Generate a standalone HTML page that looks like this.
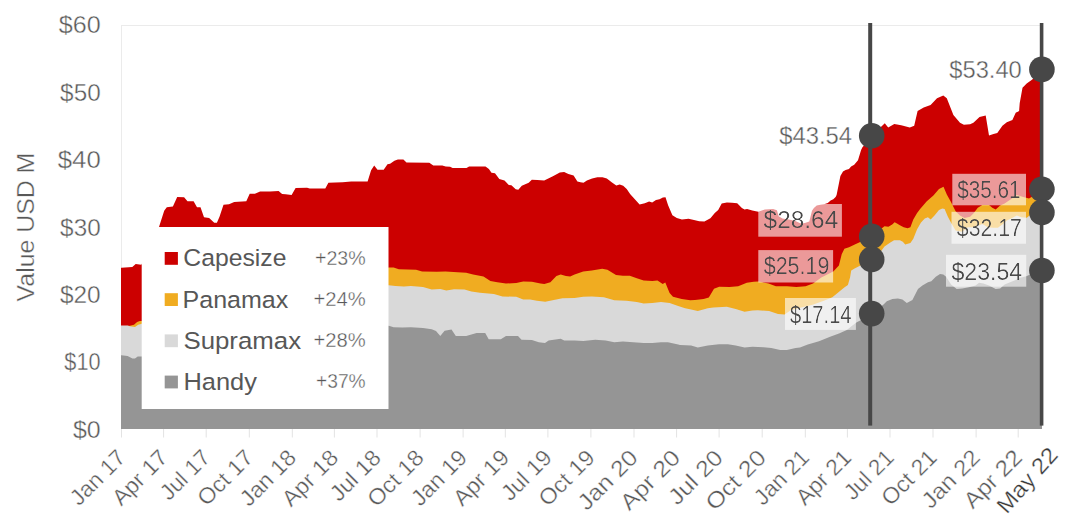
<!DOCTYPE html><html><head><meta charset="utf-8"><style>html,body{margin:0;padding:0;background:#fff;width:1080px;height:521px;overflow:hidden}svg{display:block;font-family:"Liberation Sans",sans-serif}</style></head><body>
<svg width="1080" height="521" viewBox="0 0 1080 521">
<defs><filter id="thin" x="-10%" y="-20%" width="120%" height="140%"><feComponentTransfer><feFuncA type="gamma" amplitude="1" exponent="2" offset="0"/></feComponentTransfer></filter></defs>
<line x1="121.5" y1="25.5" x2="1040" y2="25.5" stroke="#ebebeb" stroke-width="1"/>
<line x1="121.5" y1="25" x2="121.5" y2="429" stroke="#ebebeb" stroke-width="1"/>
<polygon points="121,429.0 121,267.7 121.5,267.7 132.3,266.9 135.7,263.9 141.3,264.8 150.0,250.0 159.0,227.1 164.2,210.7 166.8,207.3 172.9,206.4 177.2,196.9 184.1,197.3 187.5,201.2 193.6,201.2 197.0,207.3 200.5,207.3 204.0,217.3 209.1,218.0 214.3,222.8 216.9,222.8 219.5,216.8 223.5,204.7 229.0,204.2 234.2,202.1 246.3,201.2 249.7,193.8 254.9,193.8 260.1,191.4 270.0,191.5 278.6,191.0 282.1,193.9 285.6,194.3 291.6,195.0 295.6,188.0 307.1,187.7 309.7,188.4 325.3,188.4 328.4,182.8 342.6,182.3 351.2,181.5 367.6,181.5 371.1,170.2 374.2,165.6 377.5,169.7 383.7,169.7 387.5,164.2 390.1,163.8 394.4,160.7 397.9,159.4 403.4,159.4 406.5,162.5 429.3,162.8 433.3,165.6 442.3,165.6 445.7,166.4 450.1,166.8 452.6,168.0 466.5,168.0 469.1,166.4 485.5,166.4 488.9,169.0 491.5,172.8 495.0,173.2 499.3,178.9 504.5,180.6 508.8,184.9 511.4,185.3 515.7,189.2 518.3,189.8 521.8,185.8 528.7,182.8 531.8,179.7 537.3,180.1 544.2,180.4 552.9,176.3 559.8,172.5 564.1,172.0 568.4,174.0 573.6,175.4 577.4,181.5 580.5,182.3 583.5,182.8 586.9,180.6 592.1,178.5 597.3,177.3 602.5,177.3 606.8,178.5 612.0,182.5 616.3,185.4 619.7,184.6 623.2,185.8 626.7,188.9 630.1,194.1 635.3,199.8 639.6,204.4 644.8,203.2 649.1,201.5 652.2,202.4 656.0,200.1 659.5,199.2 662.9,197.5 665.5,197.2 668.1,205.3 672.4,215.3 676.8,217.9 681.9,219.5 688.5,218.8 694.0,220.0 699.2,221.2 704.4,221.4 710.4,218.3 714.8,213.1 718.2,210.1 721.7,203.6 726.9,202.4 732.0,202.7 737.2,203.2 741.9,207.9 744.5,209.6 747.1,209.1 752.3,210.5 758.3,211.7 764.8,209.4 773.1,209.1 776.9,210.3 778.7,216.3 782.4,218.6 788.9,219.5 795.4,220.9 799.1,222.8 801.9,223.7 805.6,222.8 809.3,221.4 812.0,210.7 813.9,208.0 816.7,205.6 820.4,204.7 824.1,204.3 827.8,202.9 830.6,200.6 833.3,199.2 835.6,196.9 836.6,195.0 838.7,184.6 840.4,175.9 843.0,171.6 845.6,169.9 849.0,169.0 851.1,166.4 854.2,164.7 858.0,160.3 861.1,150.0 862.3,147.4 871.5,136.0 884.8,123.2 888.2,127.5 894.3,124.1 901.2,125.3 909.8,127.5 914.2,125.8 917.6,111.1 923.7,107.6 930.6,105.0 937.0,98.3 943.3,95.5 946.8,98.3 953.4,115.0 960.0,122.8 963.9,124.7 970.1,124.3 973.4,122.8 979.5,116.9 985.7,115.6 989.0,135.4 993.5,134.0 997.3,132.9 1002.4,125.8 1006.8,122.3 1012.4,120.0 1015.7,112.8 1019.1,110.9 1019.7,103.2 1022.5,87.8 1026.7,83.6 1032.3,79.4 1042.0,69.4 1042.0,429.0" fill="#cc0000"/>
<polygon points="121,429.0 121,326.2 121.5,326.2 129.8,325.8 134.0,324.8 137.1,322.1 139.8,321.1 141.9,321.1 388.8,267.4 393.6,267.4 398.8,269.2 416.1,269.7 422.1,271.4 436.8,271.8 445.5,271.4 457.6,272.3 466.2,272.8 473.1,274.4 483.5,276.6 490.4,280.9 497.3,282.3 506.0,283.5 516.3,283.0 523.2,281.4 531.9,281.8 540.5,283.5 544.3,284.0 550.4,282.3 556.4,276.1 560.7,274.4 565.9,276.1 570.2,276.6 574.6,274.4 583.2,271.4 591.8,270.6 602.2,268.8 607.4,269.7 616.0,274.9 622.9,275.7 629.8,275.7 636.8,278.3 643.7,280.6 652.3,280.9 657.5,280.6 662.7,284.0 665.3,282.6 669.6,293.0 673.0,296.8 681.7,299.1 690.3,300.3 695.0,300.0 703.6,299.1 708.8,297.4 714.0,288.7 719.2,286.7 729.6,287.0 738.2,286.2 746.8,282.7 753.7,281.8 758.3,281.6 768.5,283.4 775.9,286.2 787.0,286.2 796.3,287.1 805.6,286.2 813.0,283.4 821.3,277.4 828.7,273.7 833.3,271.4 838.9,265.4 841.7,254.3 844.4,248.7 849.0,247.2 854.8,244.5 859.1,242.6 871.5,236.2 884.5,226.3 888.4,226.8 892.2,224.4 894.6,222.3 897.0,223.4 899.9,225.3 903.7,227.3 907.6,228.2 910.4,227.3 913.3,219.6 917.1,212.9 920.1,209.0 926.8,201.2 933.4,195.6 939.0,188.9 943.5,186.7 946.8,194.5 951.1,202.3 955.6,211.2 960.0,215.6 964.5,217.9 970.1,216.8 973.4,213.4 977.8,207.8 982.3,205.1 989.0,205.1 992.3,207.8 995.7,209.5 1000.1,205.6 1004.6,203.4 1011.2,198.9 1016.8,195.0 1022.4,196.7 1029.0,198.4 1035.0,195.0 1042.0,189.2 1042.0,429.0" fill="#f0ac21"/>
<polygon points="121,429.0 121,325.4 121.5,325.4 127.6,325.5 129.8,326.3 135.0,326.9 138.2,324.8 141.9,323.7 388.8,285.2 395.4,286.1 404.0,286.6 410.9,286.1 423.0,287.0 431.7,289.6 440.3,288.9 446.3,290.4 454.1,289.2 464.5,289.6 471.4,291.6 480.0,292.7 493.9,293.9 502.5,296.5 516.3,296.8 523.2,299.6 530.1,299.6 537.0,300.8 545.2,301.7 553.8,299.9 562.5,298.2 574.6,297.9 583.2,296.8 591.8,296.5 603.9,297.3 614.3,300.3 626.4,300.8 636.8,302.0 643.7,303.4 652.3,303.0 661.0,302.0 669.6,303.0 678.2,306.0 685.1,308.2 691.1,309.5 697.8,311.1 707.8,308.3 713.4,307.6 726.8,306.7 735.7,308.9 744.6,311.7 752.4,310.6 757.9,310.2 769.1,311.1 778.0,313.9 784.6,314.5 791.1,310.0 802.3,307.3 813.4,304.5 824.5,300.6 832.3,297.2 837.9,292.8 841.2,290.0 844.6,287.3 847.9,285.1 850.1,277.3 851.2,270.6 854.6,268.4 859.0,266.2 871.5,259.4 881.7,250.3 884.5,246.5 890.3,242.6 894.1,240.2 899.9,240.2 902.8,241.7 905.2,244.5 910.4,243.1 913.3,238.8 917.1,229.2 921.0,222.5 924.8,218.6 927.9,217.3 930.7,219.5 934.5,215.6 939.0,210.1 942.3,208.4 944.6,209.0 947.9,216.8 951.1,222.8 955.6,230.6 962.3,231.7 967.8,227.3 972.3,227.3 976.7,226.2 982.3,223.9 987.9,227.3 993.4,227.8 997.9,227.8 1002.3,224.5 1006.8,220.6 1011.2,218.4 1016.8,215.6 1021.3,217.2 1026.8,217.8 1030.2,215.0 1042.0,212.4 1042.0,429.0" fill="#d9d9d9"/>
<polygon points="121,429.0 121,355.3 121.3,355.3 127.6,355.9 132.4,358.5 135.0,358.5 137.7,356.4 141.9,356.4 388.8,325.8 393.6,327.2 402.3,327.6 410.9,327.2 423.0,327.9 431.7,329.3 436.0,331.0 440.3,335.9 444.6,330.7 451.5,329.6 455.8,335.9 466.2,335.9 471.4,334.5 476.6,333.1 485.2,333.1 488.7,339.3 500.8,339.3 506.0,335.9 518.0,335.9 521.5,339.7 531.9,340.0 538.8,342.3 545.0,343.0 548.6,340.5 560.7,338.8 564.2,340.5 574.6,340.5 583.2,341.0 595.3,339.7 605.7,340.5 614.3,342.3 622.9,341.4 633.3,342.3 643.7,343.1 652.3,343.1 661.0,342.3 667.9,342.3 678.2,344.5 680.0,345.1 691.1,345.6 697.8,347.6 707.8,345.6 719.0,344.3 727.9,344.3 735.7,345.6 744.6,347.6 752.4,346.8 763.5,347.3 771.3,347.9 780.2,349.9 786.9,349.9 791.3,349.0 795.6,348.0 800.0,347.6 807.8,344.5 819.0,341.2 830.1,336.8 839.0,333.4 846.8,330.1 852.4,325.6 856.8,322.3 860.2,320.6 871.5,313.6 883.5,304.5 886.8,301.2 892.4,299.0 897.9,298.4 902.4,299.5 906.8,302.9 912.4,300.1 915.7,293.4 918.0,288.9 922.4,285.6 928.0,282.3 931.3,281.2 935.8,276.7 940.0,273.9 943.3,274.5 946.1,276.7 951.1,284.5 956.7,289.0 962.3,288.4 968.9,287.3 975.6,285.6 979.0,282.8 983.4,283.4 989.0,285.6 995.7,289.0 1000.1,288.4 1004.6,284.5 1010.1,282.3 1015.7,280.1 1020.2,277.8 1026.3,276.2 1029.1,275.0 1042.0,270.5 1042.0,429.0" fill="#959595"/>
<line x1="121.5" y1="429" x2="121.5" y2="437.5" stroke="#e3e3e3" stroke-width="1"/>
<line x1="163.6" y1="429" x2="163.6" y2="437.5" stroke="#e3e3e3" stroke-width="1"/>
<line x1="206.2" y1="429" x2="206.2" y2="437.5" stroke="#e3e3e3" stroke-width="1"/>
<line x1="249.3" y1="429" x2="249.3" y2="437.5" stroke="#e3e3e3" stroke-width="1"/>
<line x1="292.3" y1="429" x2="292.3" y2="437.5" stroke="#e3e3e3" stroke-width="1"/>
<line x1="334.4" y1="429" x2="334.4" y2="437.5" stroke="#e3e3e3" stroke-width="1"/>
<line x1="377.0" y1="429" x2="377.0" y2="437.5" stroke="#e3e3e3" stroke-width="1"/>
<line x1="420.1" y1="429" x2="420.1" y2="437.5" stroke="#e3e3e3" stroke-width="1"/>
<line x1="463.1" y1="429" x2="463.1" y2="437.5" stroke="#e3e3e3" stroke-width="1"/>
<line x1="505.3" y1="429" x2="505.3" y2="437.5" stroke="#e3e3e3" stroke-width="1"/>
<line x1="547.9" y1="429" x2="547.9" y2="437.5" stroke="#e3e3e3" stroke-width="1"/>
<line x1="590.9" y1="429" x2="590.9" y2="437.5" stroke="#e3e3e3" stroke-width="1"/>
<line x1="634.0" y1="429" x2="634.0" y2="437.5" stroke="#e3e3e3" stroke-width="1"/>
<line x1="676.6" y1="429" x2="676.6" y2="437.5" stroke="#e3e3e3" stroke-width="1"/>
<line x1="719.1" y1="429" x2="719.1" y2="437.5" stroke="#e3e3e3" stroke-width="1"/>
<line x1="762.2" y1="429" x2="762.2" y2="437.5" stroke="#e3e3e3" stroke-width="1"/>
<line x1="805.3" y1="429" x2="805.3" y2="437.5" stroke="#e3e3e3" stroke-width="1"/>
<line x1="847.4" y1="429" x2="847.4" y2="437.5" stroke="#e3e3e3" stroke-width="1"/>
<line x1="890.0" y1="429" x2="890.0" y2="437.5" stroke="#e3e3e3" stroke-width="1"/>
<line x1="933.0" y1="429" x2="933.0" y2="437.5" stroke="#e3e3e3" stroke-width="1"/>
<line x1="976.1" y1="429" x2="976.1" y2="437.5" stroke="#e3e3e3" stroke-width="1"/>
<line x1="1018.2" y1="429" x2="1018.2" y2="437.5" stroke="#e3e3e3" stroke-width="1"/>
<text transform="translate(126 459.8) rotate(-45)" x="-66.3" y="0" font-size="22.5" fill="#585858" textLength="67.43" lengthAdjust="spacingAndGlyphs" stroke="#fff" stroke-width="0.35">Jan 17</text>
<text transform="translate(168.12 459.8) rotate(-45)" x="-66.46" y="0" font-size="22.5" fill="#585858" textLength="67.62" lengthAdjust="spacingAndGlyphs" stroke="#fff" stroke-width="0.35">Apr 17</text>
<text transform="translate(210.71 459.8) rotate(-45)" x="-59.05" y="0" font-size="22.5" fill="#585858" textLength="60.19" lengthAdjust="spacingAndGlyphs" stroke="#fff" stroke-width="0.35">Jul 17</text>
<text transform="translate(253.77 459.8) rotate(-45)" x="-66.82" y="0" font-size="22.5" fill="#585858" textLength="67.98" lengthAdjust="spacingAndGlyphs" stroke="#fff" stroke-width="0.35">Oct 17</text>
<text transform="translate(296.82 459.8) rotate(-45)" x="-67.54" y="0" font-size="22.5" fill="#585858" textLength="68.53" lengthAdjust="spacingAndGlyphs" stroke="#fff" stroke-width="0.35">Jan 18</text>
<text transform="translate(338.94 459.8) rotate(-45)" x="-67.7" y="0" font-size="22.5" fill="#585858" textLength="68.72" lengthAdjust="spacingAndGlyphs" stroke="#fff" stroke-width="0.35">Apr 18</text>
<text transform="translate(381.53 459.8) rotate(-45)" x="-60.3" y="0" font-size="22.5" fill="#585858" textLength="61.3" lengthAdjust="spacingAndGlyphs" stroke="#fff" stroke-width="0.35">Jul 18</text>
<text transform="translate(424.59 459.8) rotate(-45)" x="-68.07" y="0" font-size="22.5" fill="#585858" textLength="69.09" lengthAdjust="spacingAndGlyphs" stroke="#fff" stroke-width="0.35">Oct 18</text>
<text transform="translate(467.65 459.8) rotate(-45)" x="-66.98" y="0" font-size="22.5" fill="#585858" textLength="68.05" lengthAdjust="spacingAndGlyphs" stroke="#fff" stroke-width="0.35">Jan 19</text>
<text transform="translate(509.77 459.8) rotate(-45)" x="-67.14" y="0" font-size="22.5" fill="#585858" textLength="68.24" lengthAdjust="spacingAndGlyphs" stroke="#fff" stroke-width="0.35">Apr 19</text>
<text transform="translate(552.36 459.8) rotate(-45)" x="-59.73" y="0" font-size="22.5" fill="#585858" textLength="60.81" lengthAdjust="spacingAndGlyphs" stroke="#fff" stroke-width="0.35">Jul 19</text>
<text transform="translate(595.41 459.8) rotate(-45)" x="-67.5" y="0" font-size="22.5" fill="#585858" textLength="68.6" lengthAdjust="spacingAndGlyphs" stroke="#fff" stroke-width="0.35">Oct 19</text>
<text transform="translate(638.47 459.8) rotate(-45)" x="-73.01" y="0" font-size="22.5" fill="#585858" textLength="73.98" lengthAdjust="spacingAndGlyphs" stroke="#fff" stroke-width="0.35">Jan 20</text>
<text transform="translate(681.06 459.8) rotate(-45)" x="-73.15" y="0" font-size="22.5" fill="#585858" textLength="74.13" lengthAdjust="spacingAndGlyphs" stroke="#fff" stroke-width="0.35">Apr 20</text>
<text transform="translate(723.65 459.8) rotate(-45)" x="-65.78" y="0" font-size="22.5" fill="#585858" textLength="66.75" lengthAdjust="spacingAndGlyphs" stroke="#fff" stroke-width="0.35">Jul 20</text>
<text transform="translate(766.71 459.8) rotate(-45)" x="-73.6" y="0" font-size="22.5" fill="#585858" textLength="74.59" lengthAdjust="spacingAndGlyphs" stroke="#fff" stroke-width="0.35">Oct 20</text>
<text transform="translate(809.76 459.8) rotate(-45)" x="-66" y="0" font-size="22.5" fill="#585858" textLength="67.1" lengthAdjust="spacingAndGlyphs" stroke="#fff" stroke-width="0.35">Jan 21</text>
<text transform="translate(851.88 459.8) rotate(-45)" x="-66.17" y="0" font-size="22.5" fill="#585858" textLength="67.29" lengthAdjust="spacingAndGlyphs" stroke="#fff" stroke-width="0.35">Apr 21</text>
<text transform="translate(894.47 459.8) rotate(-45)" x="-58.76" y="0" font-size="22.5" fill="#585858" textLength="59.86" lengthAdjust="spacingAndGlyphs" stroke="#fff" stroke-width="0.35">Jul 21</text>
<text transform="translate(937.53 459.8) rotate(-45)" x="-66.52" y="0" font-size="22.5" fill="#585858" textLength="67.64" lengthAdjust="spacingAndGlyphs" stroke="#fff" stroke-width="0.35">Oct 21</text>
<text transform="translate(980.59 459.8) rotate(-45)" x="-70.57" y="0" font-size="22.5" fill="#585858" textLength="71.78" lengthAdjust="spacingAndGlyphs" stroke="#fff" stroke-width="0.35">Jan 22</text>
<text transform="translate(1022.71 459.8) rotate(-45)" x="-70.72" y="0" font-size="22.5" fill="#585858" textLength="71.95" lengthAdjust="spacingAndGlyphs" stroke="#fff" stroke-width="0.35">Apr 22</text>
<text transform="translate(1058.3 456.6) rotate(-48.5)" x="-77.78" y="0" font-size="22.5" fill="#383838" textLength="78.99" lengthAdjust="spacingAndGlyphs" stroke="#fff" stroke-width="0.3">May 22</text>
<text x="72.93" y="437.63" font-size="23" fill="#585858" textLength="27.74" lengthAdjust="spacingAndGlyphs" stroke="#fff" stroke-width="0.35">$0</text>
<text x="64.37" y="370.3" font-size="23" fill="#585858" textLength="36.18" lengthAdjust="spacingAndGlyphs" stroke="#fff" stroke-width="0.35">$10</text>
<text x="59.94" y="302.96" font-size="23" fill="#585858" textLength="40.72" lengthAdjust="spacingAndGlyphs" stroke="#fff" stroke-width="0.35">$20</text>
<text x="60.14" y="235.63" font-size="23" fill="#585858" textLength="40.51" lengthAdjust="spacingAndGlyphs" stroke="#fff" stroke-width="0.35">$30</text>
<text x="57.82" y="168.3" font-size="23" fill="#585858" textLength="42.88" lengthAdjust="spacingAndGlyphs" stroke="#fff" stroke-width="0.35">$40</text>
<text x="60.14" y="100.96" font-size="23" fill="#585858" textLength="40.51" lengthAdjust="spacingAndGlyphs" stroke="#fff" stroke-width="0.35">$50</text>
<text x="58.73" y="32.73" font-size="23" fill="#585858" textLength="41.95" lengthAdjust="spacingAndGlyphs" stroke="#fff" stroke-width="0.35">$60</text>
<text transform="translate(33.8 301.3) rotate(-90)" x="-0.11" y="0" font-size="23" fill="#585858" textLength="148.72" lengthAdjust="spacingAndGlyphs" stroke="#fff" stroke-width="0.35">Value USD M</text>
<rect x="141.7" y="227" width="246.8" height="182" fill="#fff"/>
<rect x="164.7" y="252.0" width="13.2" height="12.8" fill="#cc0000"/>
<text x="183.34" y="266.3" font-size="24.5" fill="#575757" textLength="103.16" lengthAdjust="spacingAndGlyphs">Capesize</text>
<text x="314.94" y="264.8" font-size="20" fill="#585858" textLength="50.76" lengthAdjust="spacingAndGlyphs" stroke="#fff" stroke-width="0.35">+23%</text>
<rect x="164.7" y="293.2" width="13.2" height="12.8" fill="#f0ac21"/>
<text x="182.55" y="307.5" font-size="24.5" fill="#575757" textLength="105.72" lengthAdjust="spacingAndGlyphs">Panamax</text>
<text x="313.51" y="306" font-size="20" fill="#585858" textLength="52.21" lengthAdjust="spacingAndGlyphs" stroke="#fff" stroke-width="0.35">+24%</text>
<rect x="164.7" y="334.4" width="13.2" height="12.8" fill="#d9d9d9"/>
<text x="183.43" y="348.7" font-size="24.5" fill="#575757" textLength="117.65" lengthAdjust="spacingAndGlyphs">Supramax</text>
<text x="313.51" y="347.2" font-size="20" fill="#585858" textLength="52.21" lengthAdjust="spacingAndGlyphs" stroke="#fff" stroke-width="0.35">+28%</text>
<rect x="164.7" y="375.6" width="13.2" height="12.8" fill="#959595"/>
<text x="183.42" y="389.9" font-size="24.5" fill="#575757" textLength="73.43" lengthAdjust="spacingAndGlyphs">Handy</text>
<text x="316.06" y="388.4" font-size="20" fill="#585858" textLength="49.62" lengthAdjust="spacingAndGlyphs" stroke="#fff" stroke-width="0.35">+37%</text>
<rect x="868.2" y="23" width="4" height="402.6" fill="#474747"/>
<rect x="1039.8" y="23" width="3.6" height="402.6" fill="#474747"/>
<rect x="758.3" y="204.0" width="83.60" height="32.70" fill="#fff" fill-opacity="0.6"/>
<text x="763.64" y="227.83" font-size="23" fill="#484848" textLength="74.58" lengthAdjust="spacingAndGlyphs" filter="url(#thin)">$28.64</text>
<rect x="758.3" y="250.1" width="74.80" height="32.40" fill="#fff" fill-opacity="0.6"/>
<text x="763.67" y="273.63" font-size="23" fill="#484848" textLength="65.85" lengthAdjust="spacingAndGlyphs" filter="url(#thin)">$25.19</text>
<rect x="785.0" y="298.0" width="70.90" height="31.90" fill="#fff" fill-opacity="0.6"/>
<text x="789.98" y="322.53" font-size="23" fill="#484848" textLength="61.61" lengthAdjust="spacingAndGlyphs" filter="url(#thin)">$17.14</text>
<rect x="952.3" y="173.8" width="73.70" height="31.50" fill="#fff" fill-opacity="0.6"/>
<text x="957.28" y="197.73" font-size="23" fill="#484848" textLength="63.33" lengthAdjust="spacingAndGlyphs" filter="url(#thin)">$35.61</text>
<rect x="951.5" y="211.8" width="74.50" height="31.95" fill="#fff" fill-opacity="0.6"/>
<text x="956.87" y="235.73" font-size="23" fill="#484848" textLength="65" lengthAdjust="spacingAndGlyphs" filter="url(#thin)">$32.17</text>
<rect x="946.0" y="254.8" width="80.25" height="31.90" fill="#fff" fill-opacity="0.6"/>
<text x="951.45" y="279.73" font-size="23" fill="#484848" textLength="70.73" lengthAdjust="spacingAndGlyphs" filter="url(#thin)">$23.54</text>
<text x="779.24" y="143.93" font-size="23" fill="#585858" textLength="72.75" lengthAdjust="spacingAndGlyphs" stroke="#fff" stroke-width="0.35">$43.54</text>
<text x="949.35" y="77.83" font-size="23" fill="#585858" textLength="72.38" lengthAdjust="spacingAndGlyphs" stroke="#fff" stroke-width="0.35">$53.40</text>
<circle cx="871.7" cy="135.8" r="12.8" fill="#474747"/>
<circle cx="871.7" cy="236.2" r="12.8" fill="#474747"/>
<circle cx="871.7" cy="259.4" r="12.8" fill="#474747"/>
<circle cx="871.7" cy="313.6" r="12.8" fill="#474747"/>
<circle cx="1041.9" cy="69.4" r="12.8" fill="#474747"/>
<circle cx="1041.9" cy="189.2" r="12.8" fill="#474747"/>
<circle cx="1041.9" cy="212.4" r="12.8" fill="#474747"/>
<circle cx="1041.9" cy="270.5" r="12.8" fill="#474747"/>
</svg></body></html>
